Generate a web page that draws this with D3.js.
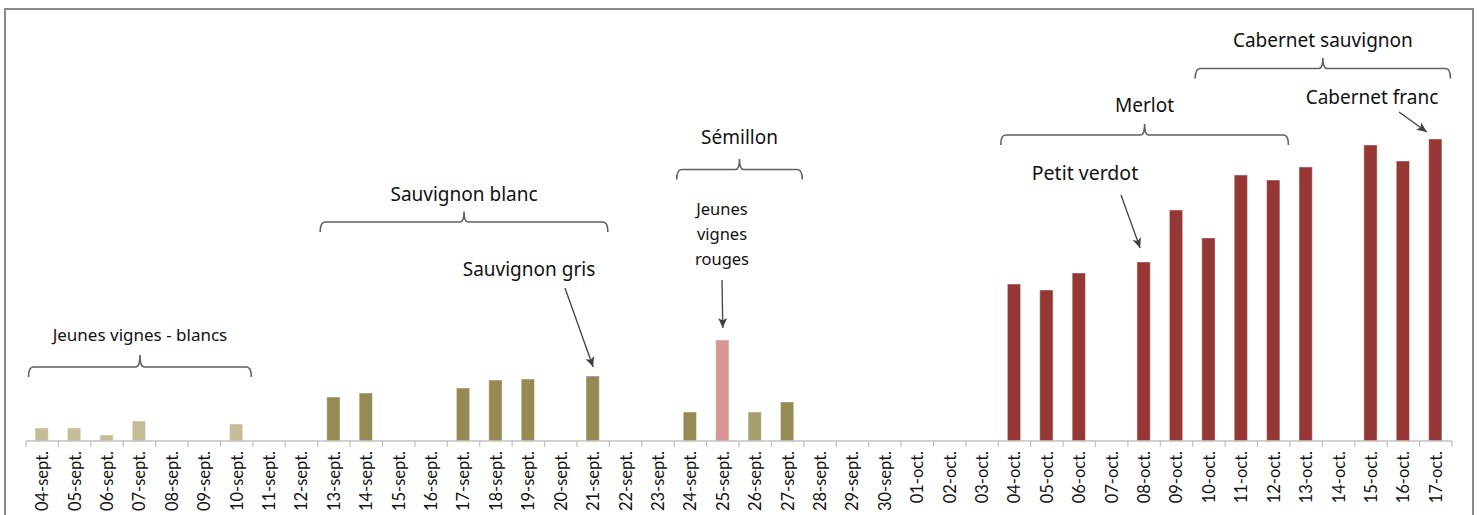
<!DOCTYPE html>
<html>
<head>
<meta charset="utf-8">
<script src="https://cdn.jsdelivr.net/npm/d3@7"></script>
<style>
  html, body { margin: 0; padding: 0; background: #fff; }
  svg { display: block; }
</style>
</head>
<body>
<svg id="chart" width="1480" height="515"></svg>
<script>
// ---------- DATA ----------
const categories = [
  "04-sept.","05-sept.","06-sept.","07-sept.","08-sept.","09-sept.","10-sept.","11-sept.","12-sept.",
  "13-sept.","14-sept.","15-sept.","16-sept.","17-sept.","18-sept.","19-sept.","20-sept.","21-sept.",
  "22-sept.","23-sept.","24-sept.","25-sept.","26-sept.","27-sept.","28-sept.","29-sept.","30-sept.",
  "01-oct.","02-oct.","03-oct.","04-oct.","05-oct.","06-oct.","07-oct.","08-oct.","09-oct.","10-oct.",
  "11-oct.","12-oct.","13-oct.","14-oct.","15-oct.","16-oct.","17-oct."
];
const values = [
  13, 13, 6, 20, 0, 0, 17, 0, 0,
  44, 48, 0, 0, 53, 61, 62, 0, 65,
  0, 0, 29, 101, 29, 39, 0, 0, 0,
  0, 0, 0, 157, 151, 168, 0, 179, 231, 203,
  266, 261, 274, 0, 296, 280, 302
];
// grape type of each day's harvest
const grapeType = [
  "jb","jb","jb","jb","jb","jb","jb","","",
  "sb","sb","","","sb","sb","sb","","sb",
  "","","sem","jr","sem2","sem","","","",
  "","","","red","red","red","","red","red","red",
  "red","red","red","","red","red","red"
];
const braceLabels = ["Jeunes vignes - blancs","Sauvignon blanc","Sémillon","Merlot","Cabernet sauvignon"];
const braceFrom   = ["04-sept.","13-sept.","24-sept.","04-oct.","10-oct."];
const braceTo     = ["10-sept.","21-sept.","27-sept.","12-oct.","17-oct."];
const arrowLabels = [["Sauvignon gris"],["Jeunes","vignes","rouges"],["Petit verdot"],["Cabernet franc"]];
const arrowTarget = ["21-sept.","25-sept.","08-oct.","17-oct."];

// ---------- STYLE / LAYOUT ----------
const colors = { jb:"#c4bc96", sb:"#948a54", sem:"#948a54", sem2:"#a59e6e", jr:"#d99594", red:"#953735", "":"none" };
const x0 = 26, x1 = 1452, baseY = 441, topY = 8;
const braceLayout = [
  {line:367, tip:355, text:340.5, size:17},
  {line:222, tip:211.5, text:200.5, size:19},
  {line:169.5, tip:159, text:143.5, size:19},
  {line:135, tip:124, text:111.5, size:19},
  {line:68.5, tip:58, text:46.5, size:19}
];
const arrowLayout = [
  {cx:529, ty:[276], size:19, from:[565,288], gap:9, dx:0},
  {cx:722, ty:[215,240,265], size:16.5, from:[722,280], gap:12, dx:0},
  {cx:1085, ty:[180], size:19.5, from:[1121,195], gap:14, dx:-4},
  {cx:1372, ty:[104], size:19, from:[1399,112], gap:7, dx:-9}
];

const svg = d3.select("#chart");

// frame
svg.append("rect")
  .attr("x", 5).attr("y", 9).attr("width", 1468).attr("height", 530)
  .attr("fill", "none").attr("stroke", "#8a8a8a").attr("stroke-width", 2);

const x = d3.scaleBand().domain(categories).range([x0, x1]).padding(0);
const y = d3.scaleLinear().domain([0, baseY - topY]).range([baseY, topY]);
const barW = x.bandwidth() * 0.41;

// bars
svg.append("g").selectAll("rect")
  .data(categories.map((c, i) => ({c, v: values[i], t: grapeType[i]})).filter(d => d.v > 0))
  .join("rect")
  .attr("x", d => x(d.c) + x.bandwidth() / 2 - barW / 2 - 0.5)
  .attr("y", d => y(d.v))
  .attr("width", barW)
  .attr("height", d => y(0) - y(d.v))
  .attr("fill", d => colors[d.t])
  .attr("stroke", "rgba(255,255,255,0.45)")
  .attr("stroke-width", 1);

// axis
const axisG = svg.append("g").attr("transform", `translate(0,${baseY})`);
const xAxis = d3.axisBottom(x).tickSize(0).tickPadding(0);
axisG.call(xAxis);
axisG.select(".domain").remove();
axisG.selectAll(".tick text")
  .attr("transform", "rotate(-90)")
  .attr("x", -10).attr("y", 0).attr("dy", "0.36em")
  .attr("text-anchor", "end")
  .attr("font-family", "Lato, 'Liberation Sans', sans-serif")
  .attr("font-size", 16.5)
  .attr("fill", "#111");
axisG.append("line")
  .attr("x1", x0).attr("x2", x1).attr("y1", 0).attr("y2", 0)
  .attr("stroke", "#c0c0c0").attr("stroke-width", 1.5);
axisG.append("g").selectAll("line")
  .data(d3.range(categories.length + 1))
  .join("line")
  .attr("x1", i => x0 + i * x.step()).attr("x2", i => x0 + i * x.step())
  .attr("y1", 0).attr("y2", 6)
  .attr("stroke", "#c0c0c0").attr("stroke-width", 1.2);

const annFont = "'Noto Sans', 'Open Sans', sans-serif";

// braces
braceLabels.forEach((lab, i) => {
  const L = braceLayout[i];
  const xa = x(braceFrom[i]) + 2.5;
  const xb = x(braceTo[i]) + x.bandwidth() - 1.5;
  const xc = (xa + xb) / 2;
  const yl = L.line, ye = yl + 10, yt = L.tip;
  const p = d3.path();
  p.moveTo(xa, ye);
  p.quadraticCurveTo(xa, yl, xa + 5, yl);
  p.lineTo(xc - 4, yl);
  p.quadraticCurveTo(xc, yl, xc, yt);
  p.quadraticCurveTo(xc, yl, xc + 4, yl);
  p.lineTo(xb - 5, yl);
  p.quadraticCurveTo(xb, yl, xb, ye);
  svg.append("path").attr("d", p.toString())
    .attr("fill", "none").attr("stroke", "#5f5f5f").attr("stroke-width", 1.6);
  svg.append("text")
    .attr("x", xc).attr("y", L.text)
    .attr("text-anchor", "middle")
    .attr("font-family", annFont).attr("font-size", L.size)
    .attr("fill", "#111")
    .text(lab);
});

// arrow marker
svg.append("defs").append("marker")
  .attr("id", "ah").attr("viewBox", "0 0 10 10")
  .attr("refX", 10).attr("refY", 5)
  .attr("markerWidth", 10).attr("markerHeight", 10)
  .attr("markerUnits", "userSpaceOnUse")
  .attr("orient", "auto")
  .append("path").attr("d", "M0,0.5 L10,5 L0,9.5 L2.5,5 Z").attr("fill", "#404040");

arrowLabels.forEach((lines, i) => {
  const L = arrowLayout[i];
  lines.forEach((t, j) => {
    svg.append("text")
      .attr("x", L.cx).attr("y", L.ty[j])
      .attr("text-anchor", "middle")
      .attr("font-family", annFont).attr("font-size", L.size)
      .attr("fill", "#111")
      .text(t);
  });
  const c = arrowTarget[i];
  const v = values[categories.indexOf(c)];
  const tx = x(c) + x.bandwidth() / 2 + L.dx;
  const ty = y(v) - L.gap;
  svg.append("line")
    .attr("x1", L.from[0]).attr("y1", L.from[1])
    .attr("x2", tx).attr("y2", ty)
    .attr("stroke", "#404040").attr("stroke-width", 1.3)
    .attr("marker-end", "url(#ah)");
});
</script>
</body>
</html>
